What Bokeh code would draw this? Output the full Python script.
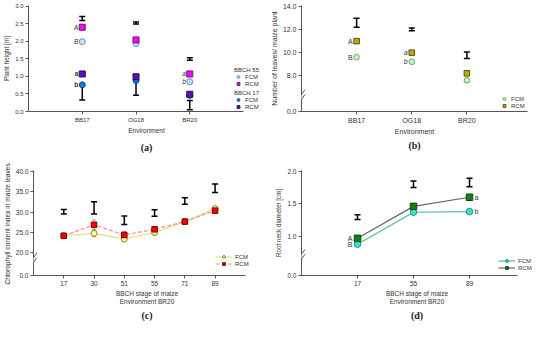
from bokeh.plotting import figure
from bokeh.models import (FixedTicker, CustomJSTickFormatter, Legend, LegendItem,
                          Arrow, Range1d)
from bokeh.layouts import row, column
from bokeh.embed import file_html
from bokeh.resources import INLINE
from bokeh.core.properties import value

FONT = "Liberation Sans"
SERIF = "Liberation Serif"
AX = "#555555"
TXT = "#333333"

# ---------------- data ----------------
# (a) plant height [m]
env = ["BB17", "OG18", "BR20"]
a_fcm55 = [1.99, 1.94, 0.85]
a_rcm55 = [2.40, 2.04, 1.07]
a_fcm17 = [0.76, 0.88, 0.46]
a_rcm17 = [1.07, 0.99, 0.49]
a_lsd55_lo = [2.59, 2.49, 1.46]
a_lsd55_hi = [2.71, 2.55, 1.53]
a_lsd17_lo = [0.33, 0.46, 0.05]
a_lsd17_hi = [0.76, 0.88, 0.31]

# (b) number of leaves
b_fcm = [9.6, 9.2, 7.6]
b_rcm = [11.0, 10.0, 8.2]
b_lsd_lo = [12.2, 11.9, 9.5]
b_lsd_hi = [13.0, 12.15, 10.05]

# (c) chlorophyll content index
c_stage = ["17", "30", "51", "55", "71", "89"]
c_fcm = [24.2, 24.8, 23.4, 25.0, 27.7, 30.9]
c_rcm = [24.2, 26.9, 24.4, 25.8, 27.7, 30.4]
c_fcm_sd = [0.3, 0.8, 0.4, 0.6, 0.3, 0.4]
c_rcm_sd = [0.3, 1.2, 0.9, 0.6, 0.4, 0.3]
c_lsd_lo = [29.6, 29.6, 27.0, 29.0, 32.0, 34.9]
c_lsd_hi = [30.7, 32.6, 29.1, 30.6, 33.6, 37.0]

# (d) root neck diameter [cm]
d_stage = ["17", "55", "89"]
d_fcm = [0.88, 1.37, 1.38]
d_rcm = [0.97, 1.46, 1.60]
d_lsd_lo = [1.26, 1.75, 1.76]
d_lsd_hi = [1.33, 1.85, 1.89]


def pos(cats):
    return [i + 1 for i in range(len(cats))]


def mkfig(w, h, xr, yr, lb, rb, tb, bb, title, tstand):
    p = figure(width=w, height=h, x_range=Range1d(*xr), y_range=Range1d(*yr),
               output_backend="svg", toolbar_location=None, tools="",
               min_border_left=lb, min_border_right=rb, min_border_top=tb,
               min_border_bottom=bb, title=title, title_location="below")
    p.grid.visible = False
    p.outline_line_color = None
    p.background_fill_color = "white"
    p.title.align = "center"
    p.title.text_font = SERIF
    p.title.text_font_style = "bold"
    p.title.text_font_size = "10px"
    p.title.text_color = "#222222"
    p.title.standoff = tstand
    for ax in (p.xaxis[0], p.yaxis[0]):
        ax.axis_line_color = AX
        ax.major_tick_line_color = AX
        ax.minor_tick_line_color = None
        ax.major_tick_out = 3
        ax.major_tick_in = 0
        ax.major_label_text_font = FONT
        ax.axis_label_text_font = FONT
        ax.major_label_text_color = TXT
        ax.axis_label_text_color = TXT
        ax.axis_label_text_font_style = "normal"
        ax.major_label_standoff = 2
        ax.axis_label_standoff = 2
    p.xaxis.axis_label_standoff = 1
    return p


def cat_axis(p, cats, fs, bound):
    p.xaxis.ticker = FixedTicker(ticks=pos(cats))
    p.xaxis.major_label_overrides = {i + 1: c for i, c in enumerate(cats)}
    p.xaxis.major_label_text_font_size = fs
    p.xaxis.bounds = (0, bound)


def errbar(p, xs, lo, hi, color="black", width=1.5, cap=6):
    p.segment(x0=xs, y0=lo, x1=xs, y1=hi, line_color=color, line_width=width)
    p.scatter(x=xs + xs, y=lo + hi, marker="dash", size=cap,
              line_color=color, line_width=width)


def brk(p, x0, yc, xpu, ypu):
    p.add_layout(Arrow(x_start=x0, y_start=yc - 2.5 / ypu, x_end=x0, y_end=yc + 2.5 / ypu,
                       end=None, line_color="white", line_width=3))
    for off in (-2.5, 2.5):
        p.add_layout(Arrow(x_start=x0 - 3.5 / xpu, y_start=yc + (off - 5) / ypu,
                           x_end=x0 + 3.5 / xpu, y_end=yc + (off + 5) / ypu,
                           end=None, line_color=AX, line_width=1))


def letters(p, xs, ys, txt, styles, align="right", dx=-4, fs="7px"):
    p.text(x=xs, y=ys, text=txt, text_font_style=styles, text_align=align,
           text_baseline="middle", x_offset=dx, text_font_size=fs,
           text_font=value(FONT), text_color=TXT)


def legend(p, items, loc, gw=8, title=None, fs="6px", lh=7):
    lg = Legend(items=items, location=loc, orientation="vertical",
                background_fill_alpha=0, border_line_alpha=0,
                label_text_font=FONT, label_text_font_size=fs, label_text_color=TXT,
                label_height=lh, glyph_height=lh, glyph_width=gw, label_standoff=3,
                spacing=0, padding=0, margin=0)
    if title:
        lg.title = title
        lg.title_text_font = FONT
        lg.title_text_font_size = fs
        lg.title_text_font_style = "normal"
        lg.title_text_color = TXT
        lg.title_standoff = 0
    p.add_layout(lg)
    return lg


# ---------------- (a) ----------------
pa = mkfig(267, 157, (0, 4.39), (0, 3.02), 26, 3, 4, 46, "(a)", 6)
xa = pos(env)
cat_axis(pa, env, "6px", 4.0)
pa.yaxis.ticker = FixedTicker(ticks=[0, 0.5, 1.0, 1.5, 2.0, 2.5, 3.0])
pa.yaxis.formatter = CustomJSTickFormatter(code="return tick.toFixed(1);")
pa.yaxis.major_label_text_font_size = "6px"
pa.yaxis.axis_label = "Plant height [m]"
pa.xaxis.axis_label = "Environment"
pa.xaxis.axis_label_text_font_size = "6.5px"
pa.yaxis.axis_label_text_font_size = "6.5px"
errbar(pa, xa, a_lsd55_lo, a_lsd55_hi)
errbar(pa, xa, a_lsd17_lo, a_lsd17_hi)
ra1 = pa.scatter(xa, a_fcm55, marker="circle", size=6, fill_color="#c6e2fa", line_color="#5b8fc7")
ra2 = pa.scatter(xa, a_rcm55, marker="square", size=6, fill_color="#ff00ff", line_color="#6a1a6a")
ra3 = pa.scatter(xa, a_fcm17, marker="circle", size=6, fill_color="#0b7be0", line_color="#1a4f8a")
ra4 = pa.scatter(xa, a_rcm17, marker="square", size=6, fill_color="#5a0fb8", line_color="#2a0a5a")
letters(pa, [1, 1, 1, 1, 3, 3],
        [a_rcm55[0], a_fcm55[0], a_rcm17[0], a_fcm17[0], a_rcm55[2], a_fcm55[2]],
        ["A", "B", "a", "b", "a", "b"],
        ["normal", "italic", "bold", "bold", "italic", "italic"], fs="6.5px")
legend(pa, [LegendItem(label="FCM", renderers=[ra1]), LegendItem(label="RCM", renderers=[ra2])],
       (206, 24), title="BBCH 55")
legend(pa, [LegendItem(label="FCM", renderers=[ra3]), LegendItem(label="RCM", renderers=[ra4])],
       (206, 1), title="BBCH 17")

# ---------------- (b) ----------------
pb = mkfig(267, 157, (0, 4.1), (4.88, 14.1), 32, 7, 5, 43, "(b)", 1)
xb = pos(env)
cat_axis(pb, env, "7px", 4.1)
pb.yaxis.ticker = FixedTicker(ticks=[4.88, 8, 10, 12, 14])
pb.yaxis.formatter = CustomJSTickFormatter(code="return tick < 6 ? '0.0' : tick.toFixed(1);")
pb.yaxis.major_label_text_font_size = "7px"
pb.yaxis.axis_label = "Number of leaves/ maize plant"
pb.xaxis.axis_label = "Environment"
pb.xaxis.axis_label_text_font_size = "7px"
pb.yaxis.axis_label_text_font_size = "7px"
errbar(pb, xb, b_lsd_lo, b_lsd_hi)
rb1 = pb.scatter(xb, b_fcm, marker="circle", size=5.5, fill_color="#c8f7c8", line_color="#5aa85a")
rb2 = pb.scatter(xb, b_rcm, marker="square", size=5.5, fill_color="#bcae00", line_color="#5a5200")
letters(pb, [1, 1, 2, 2], [b_rcm[0], b_fcm[0], b_rcm[1], b_fcm[1]],
        ["A", "B", "a", "b"], ["normal", "normal", "italic", "italic"], fs="7px")
legend(pb, [LegendItem(label="FCM", renderers=[rb1]), LegendItem(label="RCM", renderers=[rb2])],
       (199, 2))
brk(pb, 0, 6.15, 228 / 4.1, 109 / 9.22)

# ---------------- (c) ----------------
pc = mkfig(267, 166, (0, 7.5), (14.4, 40.3), 25, 7, 13, 45, "(c)", 0)
xc = pos(c_stage)
cat_axis(pc, c_stage, "6.5px", 7.0)
pc.yaxis.ticker = FixedTicker(ticks=[14.4, 20, 25, 30, 35, 40])
pc.yaxis.formatter = CustomJSTickFormatter(code="return tick < 17 ? '0.0' : tick.toFixed(1);")
pc.yaxis.major_label_text_font_size = "6.5px"
pc.yaxis.axis_label = "Chlorophyll content index  in maize leaves"
pc.xaxis.axis_label = "BBCH stage of maize\nEnvironment BR20"
pc.xaxis.axis_label_text_font_size = "6.5px"
pc.yaxis.axis_label_text_font_size = "6.6px"
errbar(pc, xc, c_lsd_lo, c_lsd_hi)
errbar(pc, xc, [v - s for v, s in zip(c_fcm, c_fcm_sd)], [v + s for v, s in zip(c_fcm, c_fcm_sd)],
       color="#999999", width=1, cap=4)
errbar(pc, xc, [v - s for v, s in zip(c_rcm, c_rcm_sd)], [v + s for v, s in zip(c_rcm, c_rcm_sd)],
       color="#999999", width=1, cap=4)
lc1 = pc.line(xc, c_fcm, line_color="#e2e27a", line_width=1.2)
lc2 = pc.line(xc, c_rcm, line_color="#ff8a8a", line_width=1.2, line_dash="4 2")
rc1 = pc.scatter(xc, c_fcm, marker="circle", size=6, fill_color="#ffff99", line_color="#8a8a2a")
rc2 = pc.scatter(xc, c_rcm, marker="square", size=5.5, fill_color="#ff0000", line_color="#7a0000")
legend(pc, [LegendItem(label="FCM", renderers=[lc1, rc1]), LegendItem(label="RCM", renderers=[lc2, rc2])],
       (182, 8), gw=17)
brk(pc, 0, 18.2, 235 / 7.5, 108 / 25.9)

# ---------------- (d) ----------------
pd_ = mkfig(267, 166, (0, 4.125), (0.40, 2.01), 34, 2, 9, 48, "(d)", 1)
xd = pos(d_stage)
cat_axis(pd_, d_stage, "6.5px", 3.85)
pd_.yaxis.ticker = FixedTicker(ticks=[0.40, 1.0, 1.5, 2.0])
pd_.yaxis.formatter = CustomJSTickFormatter(code="return tick < 0.6 ? '0.0' : tick.toFixed(1);")
pd_.yaxis.major_label_text_font_size = "6.5px"
pd_.yaxis.axis_label = "Root neck diameter [cm]"
pd_.xaxis.axis_label = "BBCH stage of maize\nEnvironment BR20"
pd_.xaxis.axis_label_text_font_size = "6.5px"
pd_.yaxis.axis_label_text_font_size = "6.3px"
errbar(pd_, xd, d_lsd_lo, d_lsd_hi)
ld1 = pd_.line(xd, d_fcm, line_color="#4fb8a0", line_width=1.2)
ld2 = pd_.line(xd, d_rcm, line_color="#666666", line_width=1.2)
rd1 = pd_.scatter(xd, d_fcm, marker="circle", size=6.5, fill_color="#40e0d0", line_color="#1a8f80")
rd2 = pd_.scatter(xd, d_rcm, marker="square", size=6.5, fill_color="#1a7a1a", line_color="#0a4a0a")
letters(pd_, [1, 1], [d_rcm[0], d_fcm[0]], ["A", "B"], ["normal", "normal"], dx=-5, fs="7px")
letters(pd_, [3, 3], [d_rcm[2], d_fcm[2]], ["a", "b"], ["normal", "normal"], align="left", dx=5, fs="7px")
legend(pd_, [LegendItem(label="FCM", renderers=[ld1, rd1]), LegendItem(label="RCM", renderers=[ld2, rd2])],
       (197, 4), gw=17)
brk(pd_, 0, 0.69, 231 / 4.125, 110 / 1.61)

layout = column(row(pa, pb), row(pc, pd_))
open("out.html", "w").write(file_html(layout, INLINE))
